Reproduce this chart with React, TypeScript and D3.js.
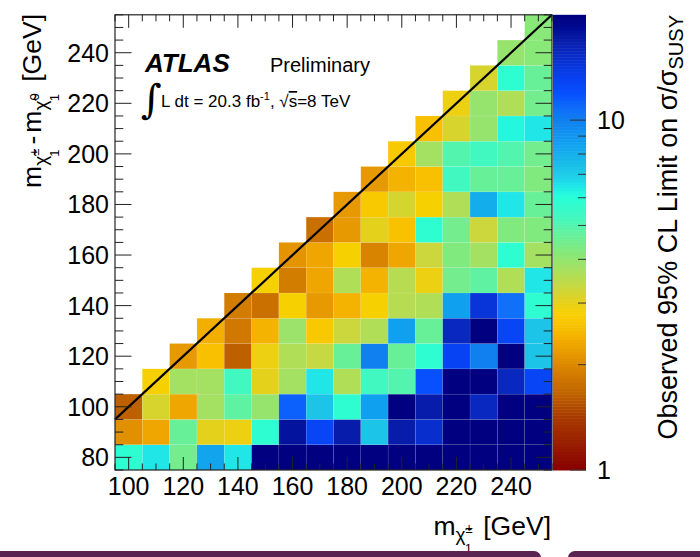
import React from 'react';
import * as d3 from 'd3';

const W = 700;
const H = 557;
const FONT = 'Liberation Sans, Arial, Helvetica, sans-serif';

// chargino mass bin centres [GeV]
const chargino = [100, 110, 120, 130, 140, 150, 160, 170, 180, 190, 200, 210, 220, 230, 240, 250];
// mass-difference bin centres [GeV]
const massDiff = [80, 90, 100, 110, 120, 130, 140, 150, 160, 170, 180, 190, 200, 210, 220, 230, 240, 250];

// observed limit on sigma/sigma_SUSY, one row per mass difference;
// each row ends at m=250 and starts where the kinematic edge allows
const limitRows: number[][] = [
  [5.85, 6.5, 4.47, 8.4, 6.5, 30, 30, 30, 30, 30, 30, 30, 30, 30, 30, 30],
  [2.06, 2.28, 4.65, 3.03, 2.94, 5.85, 17.7, 12.8, 16.9, 7.3, 16.9, 15, 30, 30, 30, 30],
  [1.64, 3.17, 2.28, 3.79, 4.8, 3.97, 11.3, 7.3, 5.85, 8.6, 30, 16.9, 30, 15.7, 30, 30],
  [2.81, 3.79, 3.79, 5.3, 3.03, 3.79, 6.5, 3.62, 5.3, 5.0, 12.0, 30, 22, 15.7, 12.8],
  [2.15, 2.57, 1.64, 2.94, 3.62, 3.37, 4.65, 10.0, 4.65, 5.85, 13, 10, 30, 7.3],
  [2.38, 1.85, 2.42, 3.9, 2.69, 3.31, 3.62, 8.6, 4.65, 15.7, 30, 12.8, 7.3],
  [1.88, 1.77, 2.81, 2.15, 2.42, 2.81, 3.55, 3.62, 8.6, 14.4, 10.7, 5.85],
  [2.81, 1.88, 2.28, 3.62, 2.42, 3.55, 2.94, 4.47, 4.8, 3.62, 6.5],
  [2.1, 2.28, 2.81, 1.95, 2.28, 3.31, 4.27, 3.79, 5.85, 3.79],
  [1.77, 2.15, 3.03, 2.6, 5.85, 4.47, 3.31, 4.27, 4.27],
  [2.15, 2.69, 3.2, 2.81, 3.62, 8.1, 6.5, 4.65],
  [2.15, 2.42, 2.57, 5.3, 4.65, 4.65, 4.27],
  [2.69, 3.79, 5.0, 5.3, 5.0, 4.47],
  [2.57, 3.17, 3.97, 6.2, 6.5],
  [2.94, 3.97, 3.62, 4.47],
  [3.17, 5.85, 4.65],
  [3.97, 4.16],
  [4.16],
];

const xTickLabels = [100, 120, 140, 160, 180, 200, 220, 240];
const yTickLabels = [80, 100, 120, 140, 160, 180, 200, 220, 240];
const zTickLabels = [1, 10];
const zMinorTicks = [2, 3, 4, 5, 6, 7, 8, 9];

const paletteStops = [0, 0.06, 0.12, 0.17, 0.205, 0.242, 0.278, 0.315, 0.344, 0.366, 0.403, 0.44, 0.476, 0.513,
  0.557, 0.601, 0.623, 0.645, 0.681, 0.718, 0.769, 0.791, 0.828, 0.864, 0.901, 0.938, 0.974, 1];
const paletteColors = ['#880000', '#982000', '#a83c00', '#c06400', '#d07800', '#e09000', '#f0a800', '#f8c000',
  '#f8d000', '#e8d018', '#c8d840', '#a8e060', '#88e878', '#68f098', '#40f8c0', '#28ffd8', '#20e8e8', '#20d0e8',
  '#18b8e8', '#10a0f0', '#1080f0', '#1070f8', '#0850ff', '#0840f0', '#0830d0', '#0820b0', '#000a90', '#000080'];

export default function App() {
  const x = d3.scaleLinear().domain([95, 255]).range([115, 552]);
  const y = d3.scaleLinear().domain([75, 255]).range([470, 14.8]);
  const zFrac = d3.scaleLog().domain([1, 20]).range([0, 1]).clamp(true);
  const pal = d3.scaleLinear<string>().domain(paletteStops).range(paletteColors)
    .interpolate(d3.interpolateRgb).clamp(true);
  const zAxis = d3.scaleLog().domain([1, 20]).range([470, 14.8]);

  const [x0, x1] = x.range();
  const [y0, y1] = y.range();

  const cells: React.ReactNode[] = [];
  massDiff.forEach((dm, r) => {
    const row = limitRows[r];
    const start = chargino.length - row.length;
    row.forEach((v, i) => {
      const mc = chargino[start + i];
      const rx = x(mc - 5);
      const ry = y(dm + 5);
      cells.push(
        <rect key={`c${r}-${i}`} x={rx} y={ry} width={x(mc + 5) - rx} height={y(dm - 5) - ry}
          fill={pal(zFrac(v))} stroke="rgba(255,255,255,0.13)" strokeWidth={0.6} />
      );
    });
  });

  const xMinor = d3.range(95, 256, 5);
  const yMinor = d3.range(75, 256, 5);

  const cbX = 553;
  const cbW = 33;
  const nBands = 150;
  const bands = d3.range(nBands).map((i) => {
    const ya = y0 - (i / nBands) * (y0 - y1);
    const yb = y0 - ((i + 1) / nBands) * (y0 - y1);
    return (
      <rect key={`b${i}`} x={cbX} y={yb} width={cbW} height={ya - yb + 0.5}
        fill={pal((i + 0.5) / nBands)} />
    );
  });

  return (
    <svg width={W} height={H} style={{ position: 'absolute', left: 0, top: 0 }} fontFamily={FONT}>
      <rect x={0} y={0} width={W} height={H} fill="#fff" />
      {cells}
      {/* diagonal kinematic line */}
      <line x1={x(95)} y1={y(95)} x2={x(255)} y2={y(255)} stroke="#000" strokeWidth={2.2} />
      {/* frame */}
      <rect x={x0} y={y1} width={x1 - x0} height={y0 - y1} fill="none" stroke="#222" strokeWidth={1.2} />
      {/* x ticks */}
      {xMinor.map((v) => {
        const major = v % 20 === 0;
        const len = major ? 13 : 6.5;
        return (
          <g key={`xt${v}`}>
            <line x1={x(v)} x2={x(v)} y1={y0} y2={y0 - len} stroke="#222" strokeWidth={1} />
            <line x1={x(v)} x2={x(v)} y1={y1} y2={y1 + len} stroke="#222" strokeWidth={1} />
          </g>
        );
      })}
      {yMinor.map((v) => {
        const major = v % 20 === 0;
        const len = major ? 16.5 : 8.3;
        return (
          <g key={`yt${v}`}>
            <line x1={x0} x2={x0 + len} y1={y(v)} y2={y(v)} stroke="#222" strokeWidth={1} />
            <line x1={x1} x2={x1 - len} y1={y(v)} y2={y(v)} stroke="#222" strokeWidth={1} />
          </g>
        );
      })}
      {xTickLabels.map((v) => (
        <text key={`xl${v}`} x={x(v)} y={495} fontSize={25} textAnchor="middle" fill="#000">{v}</text>
      ))}
      {yTickLabels.map((v) => (
        <text key={`yl${v}`} x={109} y={y(v) + 9} fontSize={25} textAnchor="end" fill="#000">{v}</text>
      ))}

      {/* colour bar */}
      {bands}
      {zMinorTicks.map((v) => (
        <line key={`zm${v}`} x1={cbX + cbW} x2={cbX + cbW - 8} y1={zAxis(v)} y2={zAxis(v)} stroke="#333" strokeWidth={1} />
      ))}
      {zTickLabels.map((v) => (
        <g key={`zl${v}`}>
          <line x1={cbX + cbW} x2={cbX + cbW - 16} y1={zAxis(v)} y2={zAxis(v)} stroke="#333" strokeWidth={1} />
          <text x={597} y={zAxis(v) + 9} fontSize={25} fill="#000">{v}</text>
        </g>
      ))}

      {/* ATLAS label */}
      <text x={145} y={72} fontSize={26} fontWeight="bold" fontStyle="italic" fill="#000">ATLAS</text>
      <text x={270} y={72} fontSize={20} fill="#000">Preliminary</text>
      <text x={141} y={113} fontSize={40} fontFamily="DejaVu Serif, serif" fill="#000">∫</text>
      <text x={161} y={107} fontSize={17} fill="#000">
        <tspan>L dt = 20.3 fb</tspan>
        <tspan fontSize={11} dy={-7}>-1</tspan>
        <tspan dy={7}>, √</tspan>
        <tspan textDecoration="overline">s</tspan>
        <tspan>=8 TeV</tspan>
      </text>

      {/* x title */}
      <text x={551} y={535} fontSize={26.5} textAnchor="end" fill="#000">
        <tspan>m</tspan>
        <tspan fontSize={19} dy={6}>χ̃</tspan>
        <tspan fontSize={13} dy={-8}>±</tspan>
        <tspan fontSize={13} dx={-8} dy={20}>1</tspan>
        <tspan fontSize={26.5} dx={4} dy={-18}> [GeV]</tspan>
      </text>

      {/* y title */}
      <g transform="translate(41,14) rotate(-90)">
        <text x={0} y={0} fontSize={26.5} textAnchor="end" fill="#000">
          <tspan>m</tspan>
          <tspan fontSize={19} dy={6}>χ̃</tspan>
          <tspan fontSize={13} dy={-8}>±</tspan>
          <tspan fontSize={13} dx={-8} dy={20}>1</tspan>
          <tspan fontSize={26.5} dx={5} dy={-18}>-</tspan>
          <tspan fontSize={26.5} dx={3}>m</tspan>
          <tspan fontSize={19} dy={6}>χ̃</tspan>
          <tspan fontSize={13} dy={-8}>0</tspan>
          <tspan fontSize={13} dx={-8} dy={20}>1</tspan>
          <tspan fontSize={26.5} dx={5} dy={-18}> [GeV]</tspan>
        </text>
      </g>

      {/* colour bar title */}
      <g transform="translate(677,15) rotate(-90)">
        <text x={0} y={0} fontSize={27} textAnchor="end" fill="#000">
          <tspan>Observed 95% CL Limit on σ/σ</tspan>
          <tspan fontSize={20} dy={6}>SUSY</tspan>
        </text>
      </g>

      {/* page artefacts at the bottom */}
      <rect x={-10} y={551} width={551} height={20} rx={7} fill="#5a2452" />
      <rect x={568} y={551} width={160} height={20} rx={7} fill="#5a2452" />
    </svg>
  );
}
